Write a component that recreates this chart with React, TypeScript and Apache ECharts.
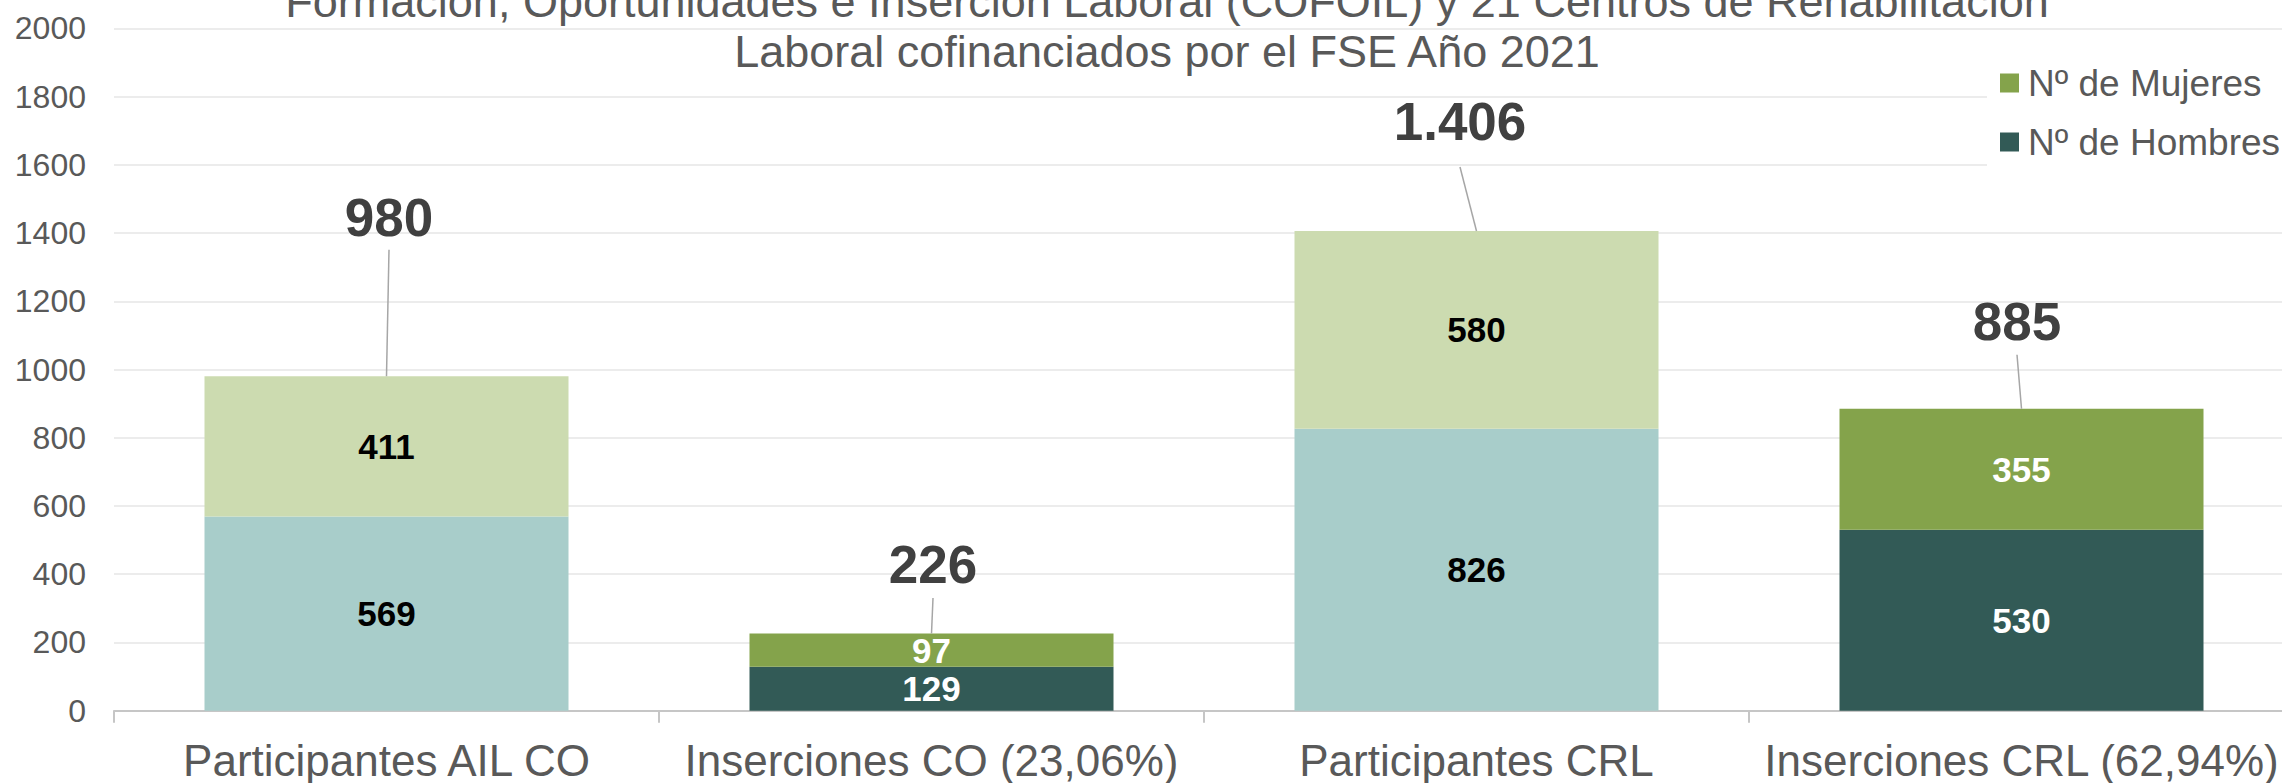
import React, { useEffect, useRef } from "react";
import * as echarts from "echarts";

const FONT = "'Liberation Sans', Arial, Helvetica, sans-serif";

const categories = [
  "Participantes AIL CO",
  "Inserciones CO (23,06%)",
  "Participantes CRL",
  "Inserciones CRL (62,94%)",
];
const hombres = [569, 129, 826, 530];
const mujeres = [411, 97, 580, 355];
const yTicks = { min: 0, max: 2000, interval: 200 };

const titleLines = [
  "Formación, Oportunidades e Inserción Laboral (COFOIL) y 21 Centros de Rehabilitación",
  "Laboral cofinanciados por el FSE Año 2021",
];

// styles (not data)
const hombresColors = ["#A8CDCA", "#325A56", "#A8CDCA", "#325A56"];
const mujeresColors = ["#CCDBB0", "#84A34B", "#CCDBB0", "#84A34B"];
const segLabelColors = ["#000000", "#FFFFFF", "#000000", "#FFFFFF"];
// total label placement relative to top of bar: dx, dy of label centre, gap = start of leader below label centre
const totalLabelLayout = [
  { dx: 2.5, dy: -159, gap: 32.5 },
  { dx: 1.5, dy: -68.6, gap: 33 },
  { dx: -16.5, dy: -109, gap: 45 },
  { dx: -4.5, dy: -87, gap: 33 },
];

const fmtEs = (n: number) => String(n).replace(/\B(?=(\d{3})+(?!\d))/g, ".");

const CHART_W = 2294; // plot area runs past the right edge of the 2282px view
const VIEW_W = 2282;
const VIEW_H = 783;

export default function App() {
  const ref = useRef<HTMLDivElement>(null);
  useEffect(() => {
    if (!ref.current) return;
    const chart = echarts.init(ref.current, null, { renderer: "svg" });
    const totals = hombres.map((h, i) => h + mujeres[i]);
    const option: any = {
      animation: false,
      backgroundColor: "#ffffff",
      textStyle: { fontFamily: FONT },
      grid: { left: 114, right: 0, top: 28.3, bottom: 72.3, containLabel: false },
      graphic: [
        {
          type: "text",
          x: 1167,
          y: 1.4,
          z: 10,
          style: {
            text: titleLines[0],
            fontSize: 45,
            fontFamily: FONT,
            fill: "#595959",
            align: "center",
            verticalAlign: "middle",
          },
        },
        {
          type: "text",
          x: 1167,
          y: 51.4,
          z: 10,
          style: {
            text: titleLines[1],
            fontSize: 45,
            fontFamily: FONT,
            fill: "#595959",
            align: "center",
            verticalAlign: "middle",
          },
        },
      ],
      legend: {
        data: ["Nº de Mujeres", "Nº de Hombres"],
        orient: "vertical",
        left: 1987,
        top: 45,
        backgroundColor: "#ffffff",
        padding: [18, 24, 20, 13],
        itemWidth: 19,
        itemHeight: 19,
        itemGap: 19,
        icon: "rect",
        textStyle: {
          fontSize: 37,
          lineHeight: 40,
          color: "#595959",
          fontFamily: FONT,
          padding: [0, 0, 0, 4],
        },
      },
      xAxis: {
        type: "category",
        data: categories,
        axisLine: { lineStyle: { color: "#c6c6c6", width: 2 } },
        axisTick: { show: true, length: 12, lineStyle: { color: "#c6c6c6", width: 2 } },
        axisLabel: { fontSize: 44, color: "#595959", margin: 28, interval: 0, fontFamily: FONT },
      },
      yAxis: {
        type: "value",
        min: yTicks.min,
        max: yTicks.max,
        interval: yTicks.interval,
        axisLine: { show: false },
        axisTick: { show: false },
        axisLabel: {
          fontSize: 32,
          color: "#595959",
          margin: 28,
          fontFamily: FONT,
          formatter: (v: number) => String(v),
        },
        splitLine: { lineStyle: { color: "#e6e6e6", width: 1.5 } },
      },
      series: [
        {
          name: "Nº de Hombres",
          type: "bar",
          stack: "total",
          barWidth: 364,
          itemStyle: { color: "#325A56" },
          label: {
            show: true,
            position: "inside",
            fontSize: 35,
            fontWeight: "bold",
            fontFamily: FONT,
          },
          data: hombres.map((v, i) => ({
            value: v,
            itemStyle: { color: hombresColors[i] },
            label: { color: segLabelColors[i] },
          })),
        },
        {
          name: "Nº de Mujeres",
          type: "bar",
          stack: "total",
          barWidth: 364,
          itemStyle: { color: "#84A34B" },
          label: {
            show: true,
            position: "inside",
            fontSize: 35,
            fontWeight: "bold",
            fontFamily: FONT,
          },
          data: mujeres.map((v, i) => ({
            value: v,
            itemStyle: { color: mujeresColors[i] },
            label: { color: segLabelColors[i] },
          })),
        },
        {
          name: "Total",
          type: "custom",
          z: 5,
          encode: { x: 0, y: 1 },
          data: totals.map((t, i) => [i, t]),
          renderItem: (params: any, api: any) => {
            const i = api.value(0);
            const t = api.value(1);
            const p = api.coord([i, t]);
            const lay = totalLabelLayout[params.dataIndex];
            const lx = p[0] + lay.dx;
            const ly = p[1] + lay.dy;
            return {
              type: "group",
              children: [
                {
                  type: "line",
                  shape: { x1: lx, y1: ly + lay.gap, x2: p[0], y2: p[1] },
                  style: { stroke: "#a6a6a6", lineWidth: 1.5 },
                },
                {
                  type: "text",
                  x: lx,
                  y: ly,
                  style: {
                    text: fmtEs(t),
                    fontSize: 53,
                    fontWeight: "bold",
                    fontFamily: FONT,
                    fill: "#404040",
                    align: "center",
                    verticalAlign: "middle",
                  },
                },
              ],
            };
          },
        },
      ],
    };
    chart.setOption(option);
    return () => chart.dispose();
  }, []);
  return (
    <div
      style={{
        position: "fixed",
        left: 0,
        top: 0,
        width: VIEW_W,
        height: VIEW_H,
        overflow: "hidden",
        background: "#fff",
      }}
    >
      <div ref={ref} style={{ width: CHART_W, height: VIEW_H }} />
    </div>
  );
}
